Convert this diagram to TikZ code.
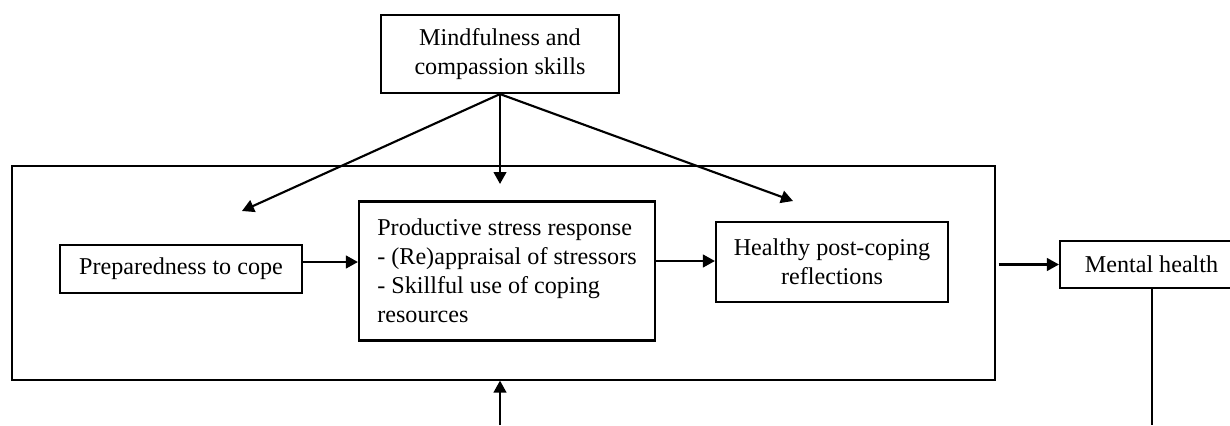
\documentclass[tikz,border=0pt]{standalone}
\usepackage{fontspec}
\setmainfont{Liberation Serif}
\usetikzlibrary{arrows.meta}

\tikzset{
  box/.style={draw, line width=1.6pt, rectangle, inner sep=0pt, align=center,
              font=\fontsize{18.1}{21.75}\selectfont},
  frame/.style={draw, line width=0.9pt, rectangle, inner sep=0pt},
  arr/.style={line width=1.6pt, -{Triangle[length=9pt,width=9.5pt]}},
  plain/.style={line width=1.6pt}
}

\begin{document}
\begin{tikzpicture}[x=0.75pt,y=-0.75pt]
  \clip (0,0) rectangle (1230,425);

  % outer frame holding the coping process
  \node[frame, minimum width=737.25pt, minimum height=160.5pt] (frame) at (503.5,273) {};

  % boxes
  \node[box, minimum width=178.5pt, minimum height=58.5pt] (skills) at (500,54)
    {Mindfulness and\\compassion skills};
  \node[box, minimum width=181.5pt, minimum height=36pt] (prep) at (181,269)
    {Preparedness to cope};
  \node[box, align=left, minimum width=222pt, minimum height=104.25pt] (prod) at (507,271)
    {Productive stress response\\- (Re)appraisal of stressors\\- Skillful use of coping\\resources};
  \node[box, minimum width=174pt, minimum height=60pt] (post) at (832,262)
    {Healthy post-coping\\reflections};
  \node[box, minimum width=137.25pt, minimum height=35.25pt] (mh) at (1151.5,264.5)
    {Mental health};

  % free ends of the connectors
  \coordinate (tipL) at (242,211);
  \coordinate (tipM) at (500,184);
  \coordinate (tipR) at (793,201);
  \coordinate (row1) at (0,262);
  \coordinate (row2) at (0,261);
  \coordinate (botIn) at (500,425);
  \coordinate (botOut) at (1152,425);

  % connectors from the skills box
  \draw[arr] (skills.south) -- (tipL);
  \draw[arr] (skills.south) -- (tipM);
  \draw[arr] (skills.south) -- (tipR);

  % process chain
  \draw[arr] (prep.east |- row1) -- (prod.west |- row1);
  \draw[arr] (prod.east |- row2) -- (post.west |- row2);
  \draw[arr, shorten <=2.25pt] (frame.east |- mh.west) -- (mh.west);

  % vertical links at the bottom
  \draw[arr] (botIn) -- (frame.south -| botIn);
  \draw[plain] (mh.south -| botOut) -- (botOut);
\end{tikzpicture}
\end{document}
